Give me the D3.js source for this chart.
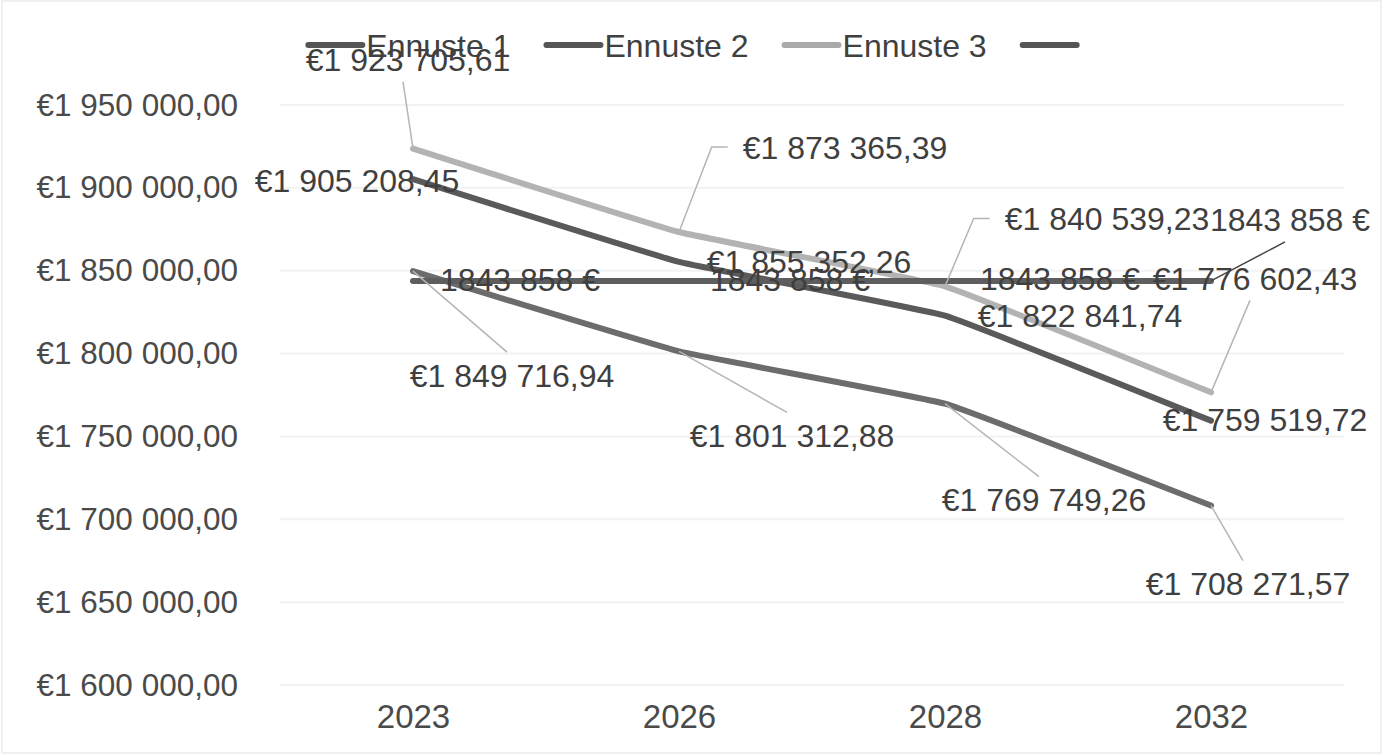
<!DOCTYPE html>
<html>
<head>
<meta charset="utf-8">
<script src="https://cdn.jsdelivr.net/npm/d3@7"></script>
<style>
  body { margin: 0; background: #fff; }
  svg { display: block; }
  text { font-family: "Liberation Sans", Arial, sans-serif; }
</style>
</head>
<body>
<div id="chart"></div>
<script>
// Data
const years = ["2023", "2026", "2028", "2032"];
const seriesNames = ["Ennuste 1", "Ennuste 2", "Ennuste 3", ""];
const ennuste1 = [1849716.94, 1801312.88, 1769749.26, 1708271.57];
const ennuste2 = [1905208.45, 1855352.26, 1822841.74, 1759519.72];
const ennuste3 = [1923705.61, 1873365.39, 1840539.23, 1776602.43];
const baseline = [1843858, 1843858, 1843858, 1843858];
const yTicks = [1600000, 1650000, 1700000, 1750000, 1800000, 1850000, 1900000, 1950000];

// Layout of the data labels (pixel offsets from their point) and which ones have leader lines
const labelOffsets = [
  [[99, 104], [113, 84], [99, 96], [37, 78]],
  [[-56, 1], [130, 0], [135, 0], [54, -1]],
  [[-5, -89], [166, -85], [162, -68], [44, -114]],
  [[107, -1], [111, -1], [115, -2], [79, -61]]
];
const leaders = [[1, 1, 1, 1], [0, 0, 0, 0], [1, 1, 1, 1], [0, 0, 0, 1]];
const lineColors = ["#6c6c6c", "#5a5a5a", "#b3b3b3", "#5e5e5e"];
const leaderColors = ["#b5b5b5", "#b5b5b5", "#b5b5b5", "#444"];

const W = 1385, H = 755;
const plot = {left: 280, right: 1344, top: 105, bottom: 685};

const svg = d3.select("#chart").append("svg")
    .attr("width", W)
    .attr("height", H);

// faint frame of the scanned chart
svg.append("rect")
    .attr("x", 2).attr("y", 1).attr("width", W - 6).attr("height", H - 3)
    .attr("fill", "none").attr("stroke", "#f0f0f0").attr("stroke-width", 2);

const loc = d3.formatLocale({decimal: ",", thousands: " ", grouping: [3], currency: ["€", ""]});
const euro = loc.format("$,.2f");
const plain = v => `${Math.floor(v / 1000)} ${String(Math.round(v % 1000)).padStart(3, "0")} €`;

const xScale = d3.scalePoint().domain(years).range([plot.left, plot.right]).padding(0.5);
const yScale = d3.scaleLinear().domain([1600000, 1950000]).range([plot.bottom, plot.top]);

// Gridlines
svg.append("g")
    .selectAll("line")
    .data(yTicks)
    .join("line")
    .attr("x1", plot.left).attr("x2", plot.right)
    .attr("y1", d => yScale(d)).attr("y2", d => yScale(d))
    .attr("stroke", "#f2f2f2")
    .attr("stroke-width", 2);

// Y axis
const yAxis = svg.append("g")
    .attr("transform", `translate(238,0)`)
    .call(d3.axisLeft(yScale).tickValues(yTicks).tickFormat(euro).tickSize(0).tickPadding(0));
yAxis.select(".domain").remove();
yAxis.selectAll("text")
    .attr("font-size", 31.5)
    .attr("fill", "#4a4a4a")
    .style("font-family", "'Liberation Sans', Arial, sans-serif");

// X axis
const xAxis = svg.append("g")
    .attr("transform", `translate(0,${plot.bottom})`)
    .call(d3.axisBottom(xScale).tickSize(0).tickPadding(20));
xAxis.select(".domain").remove();
xAxis.selectAll("text")
    .attr("font-size", 33)
    .attr("fill", "#4a4a4a")
    .style("font-family", "'Liberation Sans', Arial, sans-serif");

const series = [ennuste1, ennuste2, ennuste3, baseline];

// Lines
const line = d3.line()
    .x((d, i) => xScale(years[i]))
    .y(d => yScale(d))
    .curve(d3.curveCardinal.tension(0.75));

svg.append("g")
    .selectAll("path")
    .data(series)
    .join("path")
    .attr("d", d => line(d))
    .attr("fill", "none")
    .attr("stroke", (d, i) => lineColors[i])
    .attr("stroke-width", 6)
    .attr("stroke-linecap", "round")
    .attr("stroke-linejoin", "round");

// Data labels
const labelLayer = svg.append("g");
const leaderLayer = svg.insert("g", () => labelLayer.node());

function leaderPath(px, py, cx, cy, w) {
  const left = cx - w / 2 - 15, top = cy - 23, bottom = cy + 22;
  if (px < left - 10) return `M${px},${py}L${left - 16},${cy}L${left},${cy}`;
  if (py < top) return `M${px},${py}L${cx - 5},${top}`;
  return `M${px},${py}L${cx - 5},${bottom}`;
}

series.forEach((vals, s) => {
  vals.forEach((v, i) => {
    const px = xScale(years[i]), py = yScale(v);
    const cx = px + labelOffsets[s][i][0], cy = py + labelOffsets[s][i][1];
    const t = labelLayer.append("text")
        .attr("x", cx).attr("y", cy)
        .attr("dy", "0.36em")
        .attr("text-anchor", "middle")
        .attr("font-size", 32)
        .attr("fill", "#3f3f3f")
        .text(s === 3 ? plain(v) : euro(v));
    if (leaders[s][i]) {
      const w = t.node().getComputedTextLength();
      leaderLayer.append("path")
          .attr("d", leaderPath(px, py, cx, cy, w))
          .attr("fill", "none")
          .attr("stroke", leaderColors[s])
          .attr("stroke-width", 1.5);
    }
  });
});

// Legend
const legend = svg.append("g");
let lx = 0;
seriesNames.forEach((name, i) => {
  const g = legend.append("g").attr("transform", `translate(${lx},0)`);
  g.append("line")
      .attr("x1", 0).attr("x2", 54)
      .attr("stroke", i === 2 ? "#aaaaaa" : "#555555")
      .attr("stroke-width", 6)
      .attr("stroke-linecap", "round");
  const t = g.append("text")
      .attr("x", 58).attr("dy", "0.36em")
      .attr("font-size", 32)
      .attr("fill", "#404040")
      .text(name);
  const tw = name ? t.node().getComputedTextLength() : 0;
  lx += 58 + tw + 36;
});
const legendWidth = lx - 36 - 4;
legend.attr("transform", `translate(${(W - legendWidth) / 2},45)`);
</script>
</body>
</html>
